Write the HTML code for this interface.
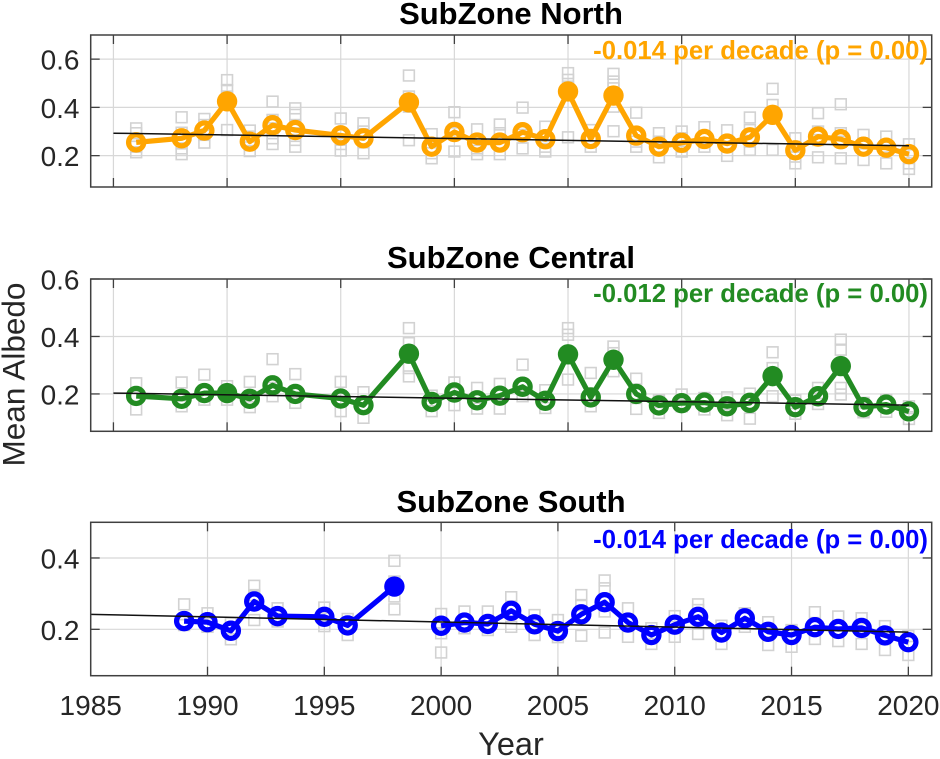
<!DOCTYPE html>
<html lang="en">
<head>
<meta charset="utf-8">
<title>Mean Albedo by SubZone</title>
<style>
html,body{margin:0;padding:0;background:#fff;width:940px;height:759px;overflow:hidden}
svg{display:block;font-family:"Liberation Sans",Arial,sans-serif}
</style>
</head>
<body>
<svg id="chart" xmlns="http://www.w3.org/2000/svg" width="940" height="759" viewBox="0 0 940 759"></svg>
<script>
const northYears = [1986,1988,1989,1990,1991,1992,1993,1995,1996,1998,1999,2000,2001,2002,2003,2004,2005,2006,2007,2008,2009,2010,2011,2012,2013,2014,2015,2016,2017,2018,2019,2020];
const southYears = [1989,1990,1991,1992,1993,1995,1996,1998,2000,2001,2002,2003,2004,2005,2006,2007,2008,2009,2010,2011,2012,2013,2014,2015,2016,2017,2018,2019,2020];

const northMean = [.255,.272,.304,.425,.258,.326,.306,.284,.272,.421,.237,.298,.254,.254,.297,.268,.466,.269,.449,.283,.237,.253,.269,.25,.276,.369,.222,.279,.268,.237,.233,.206];
const centralMean = [.193,.183,.203,.203,.183,.23,.2,.184,.161,.34,.172,.205,.178,.194,.225,.176,.338,.188,.319,.2,.16,.168,.17,.157,.169,.262,.154,.192,.297,.154,.163,.139];
const southMean = [.223,.22,.196,.278,.237,.235,.211,.32,.21,.219,.215,.252,.214,.195,.242,.276,.219,.184,.213,.235,.191,.231,.193,.184,.206,.201,.204,.183,.164];

const northFilledYears = [1990,1998,2005,2007,2014];
const centralFilledYears = [1990,1998,2005,2007,2014,2017];
const southFilledYears = [1998];

const northSamples = [
[.313,.293,.237,.214],[.359,.295,.251,.23,.206],[.352,.327,.286,.254],[.513,.472,.445,.306],
[.304,.279,.244,.219],[.424,.348,.313,.272,.248],[.396,.369,.327,.293,.265,.237],[.354,.293,.248,.221],
[.334,.3,.258,.21],[.532,.445,.403,.264],[.289,.23,.21,.189],[.38,.293,.217],
[.309,.265,.23,.206],[.329,.293,.251,.206],[.399,.286,.23],[.32,.272,.237,.217],
[.542,.514,.486,.276],[.306,.265,.237],[.539,.507,.479,.403,.301],[.378,.286,.258,.237],
[.293,.258,.23,.193],[.3,.272,.237,.217],[.318,.279,.237],[.305,.251,.199],
[.358,.306,.258,.224],[.477,.41,.224],[.272,.237,.196,.168],[.376,.3,.265,.193],
[.413,.293,.258,.189],[.286,.251,.182],[.279,.237,.168],[.247,.203,.168,.145]];
const centralSamples = [
[.237,.192,.146],[.24,.157],[.267,.18],[.227,.203,.18],
[.242,.154],[.321,.221,.192],[.269,.169],[.242,.14],
[.206,.117],[.429,.377,.29,.261],[.194,.14],[.24,.161],
[.221,.149],[.235,.149],[.302,.192],[.213,.151],
[.429,.406,.25],[.273,.157],[.365,.342,.279],[.253,.148],
[.177,.134],[.198,.157],[.186,.146],[.188,.157,.126],
[.201,.114],[.345,.29,.192],[.177,.131],[.221,.165],
[.389,.354,.221,.198],[.169,.136],[.18,.138],[.157,.113]];
const southSamples = [
[.27,.212],[.245,.207],[.217,.172],[.322,.296,.226],[.259,.222],[.261,.209],[.229,.184],
[.392,.334,.292,.256],[.243,.189,.135],[.25,.203],[.25,.198],[.29,.264,.207],[.24,.184],[.226,.178],
[.296,.268,.182],[.337,.315,.25,.191],[.259,.179],[.203,.159],[.237,.179],[.27,.254,.187],[.21,.159],
[.245,.207],[.22,.156],[.198,.151],[.248,.173],[.236,.167],[.231,.159],[.209,.142],[.181,.128]];

const trendYears = [1985,2020];
const northTrend = [.293,.241];
const centralTrend = [.203,.161];
const southTrend = [.242,.192];

const xTickYears = [1985,1990,1995,2000,2005,2010,2015,2020];
const northYTicks = [.2,.4,.6];
const centralYTicks = [.2,.4,.6];
const southYTicks = [.2,.4];

const northTitle = 'SubZone North';
const centralTitle = 'SubZone Central';
const southTitle = 'SubZone South';
const northNote = '-0.014 per decade (p = 0.00)';
const centralNote = '-0.012 per decade (p = 0.00)';
const southNote = '-0.014 per decade (p = 0.00)';

const NS = 'http://www.w3.org/2000/svg';
const svg = document.getElementById('chart');

function mk(parent, tag, attrs, name) {
  const el = document.createElementNS(NS, tag);
  for (const k in attrs) el.setAttribute(k, attrs[k]);
  
  
  parent.appendChild(el);
  return el;
}

function drawPanel(cfg) {
  const g = mk(svg, 'g', {}, cfg.id + '-panel');
  const x = v => cfg.left + (v - cfg.xMin) / (cfg.xMax - cfg.xMin) * (cfg.right - cfg.left);
  const y = v => cfg.bottom - (v - cfg.yMin) / (cfg.yMax - cfg.yMin) * (cfg.bottom - cfg.top);

  // grid
  xTickYears.forEach(t => {
    if (x(t) <= cfg.left + 1) return;
    mk(g, 'line', {x1:x(t),x2:x(t),y1:cfg.top,y2:cfg.bottom,stroke:'#d8d8d8','stroke-width':1.2}, cfg.id + '-x-grid-' + t);
  });
  cfg.yTicks.forEach(t => {
    mk(g, 'line', {x1:cfg.left,x2:cfg.right,y1:y(t),y2:y(t),stroke:'#d8d8d8','stroke-width':1.2}, cfg.id + '-y-grid-' + t);
  });

  // sample squares
  cfg.samples.forEach((arr, i) => {
    arr.forEach((v, j) => {
      mk(g, 'rect', {x:x(cfg.years[i]) - 5.4,y:y(v) - 5.4,width:10.8,height:10.8,fill:'none',stroke:'#d2d2d2','stroke-width':1.6}, cfg.id + '-sample-' + cfg.years[i] + '-' + j);
    });
  });

  // series: the line breaks between 1998 and 2000 in the south panel
  const segs = [];
  let cur = [];
  cfg.years.forEach((yr, i) => {
    if (cfg.breakAfter && yr > cfg.breakAfter && cur.length && cfg.years[i - 1] <= cfg.breakAfter) { segs.push(cur); cur = []; }
    cur.push(x(yr).toFixed(1) + ',' + y(cfg.values[i]).toFixed(1));
  });
  segs.push(cur);
  segs.forEach((s, k) => {
    mk(g, 'polyline', {points:s.join(' '),fill:'none',stroke:cfg.color,'stroke-width':5.2,'stroke-linejoin':'round'}, cfg.id + '-mean-line-' + k);
  });

  // markers
  cfg.years.forEach((yr, i) => {
    const filled = cfg.filled.indexOf(yr) >= 0;
    if (filled) {
      mk(g, 'circle', {cx:x(yr),cy:y(cfg.values[i]),r:10.2,fill:cfg.color}, cfg.id + '-significant-point-' + yr);
    } else {
      mk(g, 'circle', {cx:x(yr),cy:y(cfg.values[i]),r:7.6,fill:'none',stroke:cfg.color,'stroke-width':5.2}, cfg.id + '-point-' + yr);
    }
  });

  // trend
  mk(g, 'line', {x1:x(trendYears[0]),x2:x(trendYears[1]),y1:y(cfg.trend[0]),y2:y(cfg.trend[1]),stroke:'#111','stroke-width':1.5}, cfg.id + '-trend-line');

  // box
  mk(g, 'rect', {x:cfg.left,y:cfg.top,width:cfg.right - cfg.left,height:cfg.bottom - cfg.top,fill:'none',stroke:'#404040','stroke-width':1.5}, cfg.id + '-axes-box');

  // ticks
  xTickYears.forEach(t => {
    if (x(t) <= cfg.left + 1) return;
    mk(g, 'line', {x1:x(t),x2:x(t),y1:cfg.top,y2:cfg.top + 9,stroke:'#404040','stroke-width':1.3}, cfg.id + '-x-tick-top-' + t);
    mk(g, 'line', {x1:x(t),x2:x(t),y1:cfg.bottom,y2:cfg.bottom - 9,stroke:'#404040','stroke-width':1.3}, cfg.id + '-x-tick-bottom-' + t);
  });
  cfg.yTicks.forEach(t => {
    mk(g, 'line', {x1:cfg.left,x2:cfg.left + 9,y1:y(t),y2:y(t),stroke:'#404040','stroke-width':1.3}, cfg.id + '-y-tick-left-' + t);
    mk(g, 'line', {x1:cfg.right,x2:cfg.right - 9,y1:y(t),y2:y(t),stroke:'#404040','stroke-width':1.3}, cfg.id + '-y-tick-right-' + t);
    const lab = mk(g, 'text', {x:79.5,y:y(t) + 10.5,'text-anchor':'end','font-size':28,fill:'#262626'}, cfg.id + '-y-tick-label-' + t);
    lab.textContent = t.toFixed(1);
  });

  // title and annotation
  const title = mk(g, 'text', {x:511,y:cfg.titleY,'text-anchor':'middle','font-size':31,'font-weight':'bold',fill:'#000'}, cfg.id + '-title');
  title.textContent = cfg.title;
  const note = mk(g, 'text', {x:928,y:cfg.noteY,'text-anchor':'end','font-size':25.7,'font-weight':'bold',fill:cfg.color}, cfg.id + '-trend-annotation');
  note.textContent = cfg.note;

  if (cfg.xLabels) {
    xTickYears.forEach(t => {
      const lab = mk(g, 'text', {x:x(t),y:715,'text-anchor':'middle','font-size':28,fill:'#262626'}, 'x-tick-label-' + t);
      lab.textContent = t;
    });
  }
}

drawPanel({id:'north',left:90.7,right:931.7,top:35,bottom:187,xMin:1984,xMax:2021,yMin:.07,yMax:.7,
  years:northYears,values:northMean,samples:northSamples,filled:northFilledYears,trend:northTrend,yTicks:northYTicks,
  color:'#ffa500',title:northTitle,note:northNote,titleY:24,noteY:59});
drawPanel({id:'central',left:90.7,right:931.7,top:279,bottom:431.3,xMin:1984,xMax:2021,yMin:.07,yMax:.6,
  years:northYears,values:centralMean,samples:centralSamples,filled:centralFilledYears,trend:centralTrend,yTicks:centralYTicks,
  color:'#228b22',title:centralTitle,note:centralNote,titleY:268,noteY:302});
drawPanel({id:'south',left:90.7,right:931.7,top:522.3,bottom:675.7,xMin:1985,xMax:2021,yMin:.07,yMax:.5,
  years:southYears,values:southMean,samples:southSamples,filled:southFilledYears,trend:southTrend,yTicks:southYTicks,breakAfter:1998,
  color:'#0000ff',title:southTitle,note:southNote,titleY:512,noteY:548,xLabels:true});

const yTitle = mk(svg, 'text', {x:0,y:0,transform:'translate(24.5,374.5) rotate(-90)','text-anchor':'middle','font-size':31.5,fill:'#262626'}, 'y-axis-title');
yTitle.textContent = 'Mean Albedo';
const xTitle = mk(svg, 'text', {x:511,y:755,'text-anchor':'middle','font-size':32.5,fill:'#262626'}, 'x-axis-title');
xTitle.textContent = 'Year';
</script>
</body>
</html>
